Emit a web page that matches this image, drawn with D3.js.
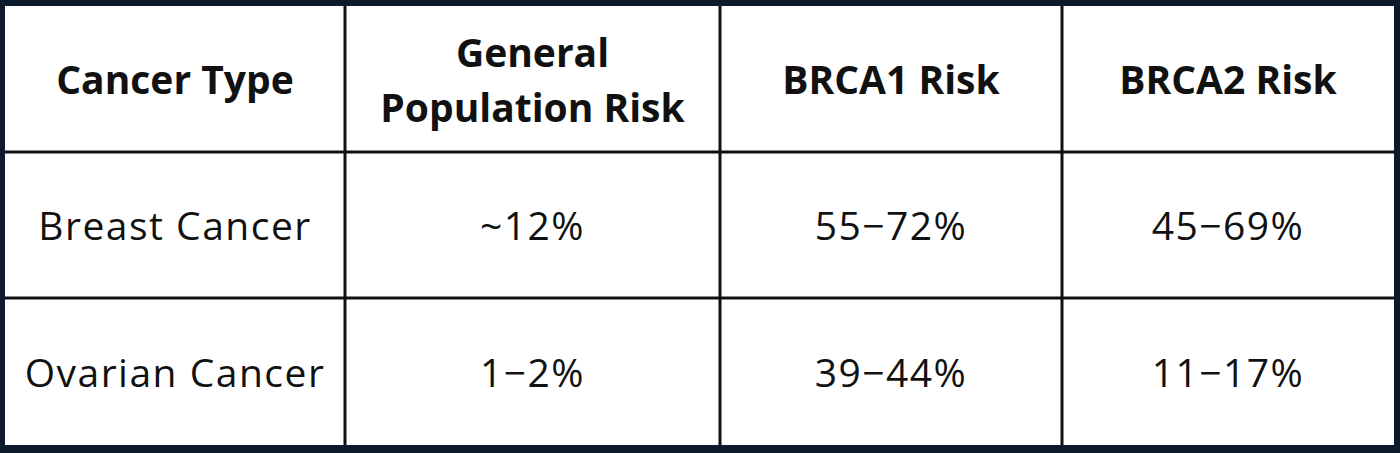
<!DOCTYPE html>
<html><head><meta charset="utf-8">
<script src="https://cdn.jsdelivr.net/npm/d3@7"></script>
<style>body{margin:0;background:#0c1a2b}</style></head>
<body><svg id="c" width="1400" height="453"></svg>
<script>
var headers = [['Cancer Type'], ['General', 'Population Risk'], ['BRCA1 Risk'], ['BRCA2 Risk']];
var rowLabels = ['Breast Cancer', 'Ovarian Cancer'];
var generalRisk = ['~12%', '1\u22122%'];
var brca1Risk = ['55\u221272%', '39\u221244%'];
var brca2Risk = ['45\u221269%', '11\u221217%'];

var svg = d3.select('#c');
var colEdges = [5, 345, 720, 1062, 1394];
var rowEdges = [6, 152, 298, 445];
var x = function (i) { return colEdges[i]; };
var y = function (i) { return rowEdges[i]; };

svg.append('rect').attr('width', 1400).attr('height', 453).attr('fill', '#0c1a2b');
svg.append('rect').attr('x', x(0)).attr('y', y(0))
    .attr('width', x(4) - x(0)).attr('height', y(3) - y(0)).attr('fill', '#fff');

var grid = svg.append('g').attr('stroke', '#111').attr('stroke-width', 3);
colEdges.slice(1, 4).forEach(function (c) {
    grid.append('line').attr('x1', c).attr('x2', c).attr('y1', y(0)).attr('y2', y(3));
});
rowEdges.slice(1, 3).forEach(function (r) {
    grid.append('line').attr('x1', x(0)).attr('x2', x(4)).attr('y1', r).attr('y2', r);
});

var font = "'Open Sans', sans-serif";
headers.forEach(function (lines, i) {
    var cx = (x(i) + x(i + 1)) / 2, cy = (y(0) + y(1)) / 2;
    var t = svg.append('text').attr('x', cx).attr('text-anchor', 'middle')
        .attr('font-family', font).attr('font-weight', 700).attr('font-size', 39).attr('fill', '#111');
    lines.forEach(function (l, k) {
        t.append('tspan').attr('x', cx)
            .attr('y', cy + 15 + (k - (lines.length - 1) / 2) * 55).text(l);
    });
});

var rows = rowLabels.map(function (r, i) { return [r, generalRisk[i], brca1Risk[i], brca2Risk[i]]; });
rows.forEach(function (row, ri) {
    row.forEach(function (v, ci) {
        svg.append('text').attr('x', (x(ci) + x(ci + 1)) / 2)
            .attr('y', (y(ri + 1) + y(ri + 2)) / 2 + 15)
            .attr('text-anchor', 'middle').attr('font-family', font)
            .attr('font-size', 39).attr('fill', '#111').attr('letter-spacing', 1.5).text(v);
    });
});
</script></body></html>
